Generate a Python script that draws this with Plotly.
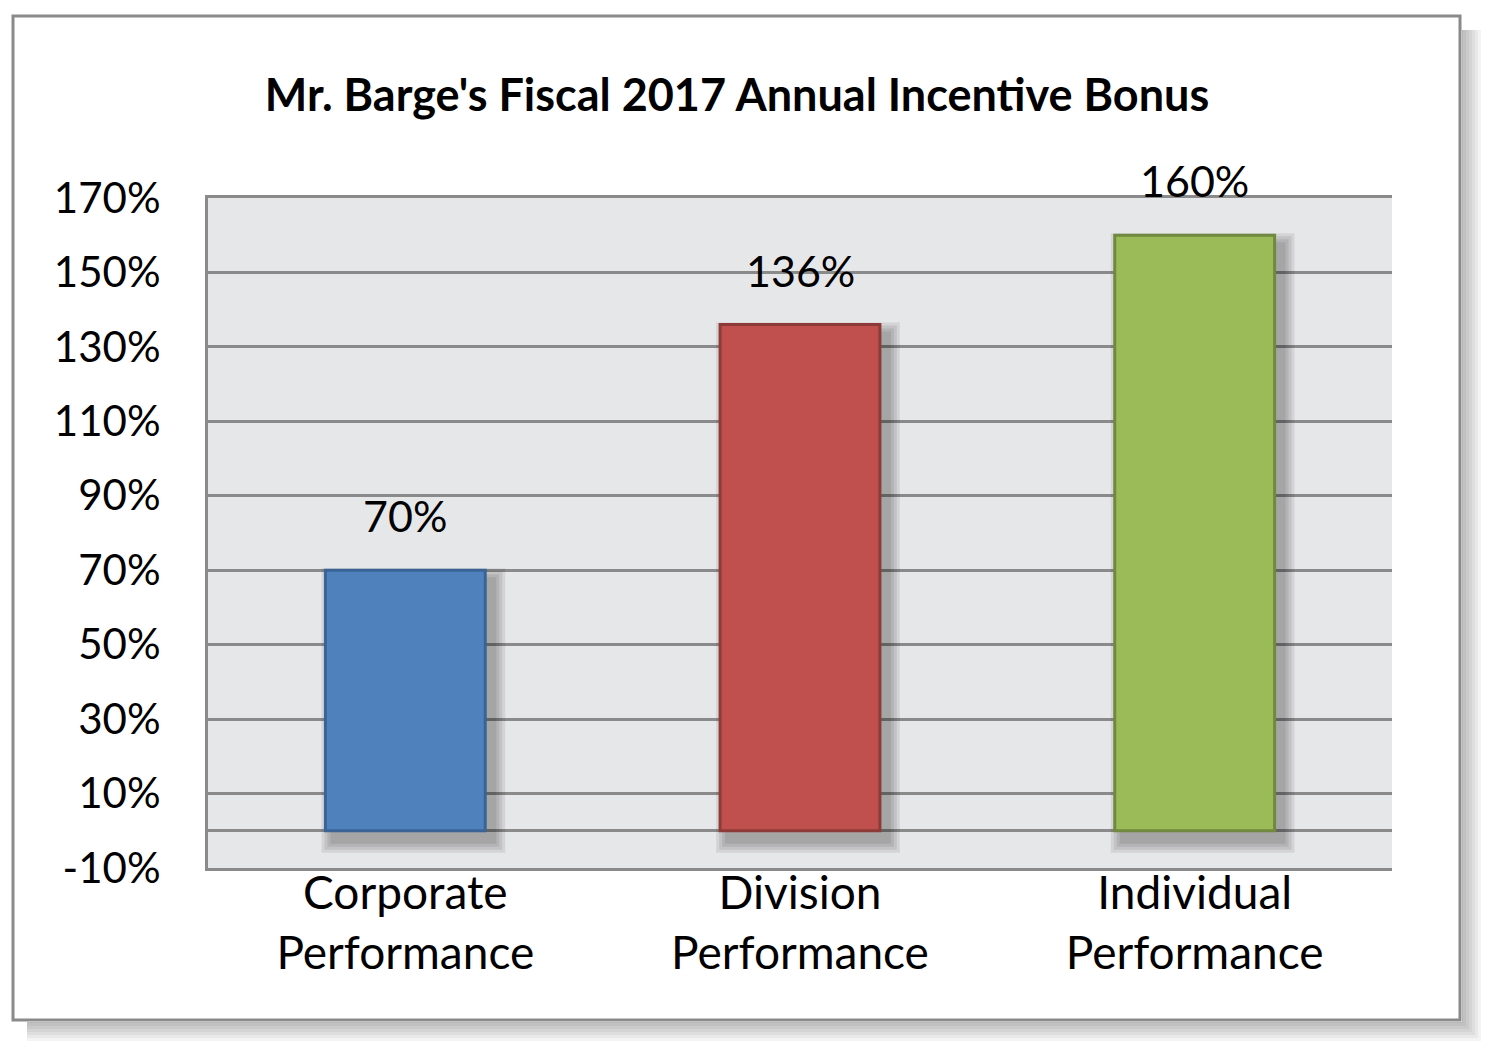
import plotly.graph_objects as go

categories = ["Corporate<br>Performance", "Division<br>Performance", "Individual<br>Performance"]
values = [70, 136, 160]
bar_colors = ["#4F81BD", "#C0504D", "#9BBB59"]
border_colors = ["#3A6496", "#8E3A38", "#71893F"]
tick_vals = [-10, 10, 30, 50, 70, 90, 110, 130, 150, 170]
tick_text = [f"{v}%" for v in tick_vals]
title_text = "Mr. Barge's Fiscal 2017 Annual Incentive Bonus"

OFF = 8  # browser body margin
W, H = 1500 - OFF, 1056 - OFF
L, R, T, B = 208 - OFF, 1392 - OFF, 198 - OFF, 868 - OFF
FONT = "Lato"
GRID = "#8A8A8A"

def px(x):
    x -= OFF
    return (x - L) / (R - L)

def py(y):
    y -= OFF
    return (B - y) / (B - T)

fig = go.Figure()

# bar shadows (soft, offset down/right)
bw = 0.405
unit_x = (R - L) / 3.0
unit_y = (B - T) / 180.0
dx, dy = 8, 10
for e in [12, 9, 6, 3]:
    w = bw + 2 * e / unit_x
    bottom = -dy / unit_y - e / unit_y
    tops = [v - dy / unit_y + e / unit_y for v in values]
    fig.add_trace(go.Bar(
        x=categories, y=[t - bottom for t in tops], base=bottom,
        width=w, offset=-w / 2 + dx / unit_x,
        marker=dict(color="rgba(0,0,0,0.08)", line=dict(width=0)),
        hoverinfo="skip", showlegend=False,
    ))

fig.add_trace(go.Bar(
    x=categories, y=values, width=bw,
    marker=dict(color=bar_colors, line=dict(color=border_colors, width=3)),
    showlegend=False, cliponaxis=False,
))

for c, v in zip(categories, values):
    fig.add_annotation(x=c, y=v, text=f"{v}%", showarrow=False,
                       yanchor="bottom", yshift=27,
                       font=dict(family=FONT, size=43, color="#000"))

shapes = []
# outer frame shadow
fl, ft, fr, fb = 13, 16, 1460, 1020
for i in range(7):
    off = 3 + i * 3
    shapes.append(dict(type="rect", xref="paper", yref="paper", layer="below",
                       x0=px(fl + 14), x1=px(fr + off), y0=py(fb + 2), y1=py(fb + off),
                       line=dict(width=0), fillcolor="rgba(0,0,0,0.045)"))
    shapes.append(dict(type="rect", xref="paper", yref="paper", layer="below",
                       x0=px(fr + 2), x1=px(fr + off), y0=py(ft + 14), y1=py(fb + 2),
                       line=dict(width=0), fillcolor="rgba(0,0,0,0.045)"))
shapes.append(dict(type="rect", xref="paper", yref="paper", layer="above",
                   x0=px(fl), x1=px(fr), y0=py(fb), y1=py(ft),
                   line=dict(color=GRID, width=3), fillcolor="rgba(0,0,0,0)"))

fig.update_layout(
    width=W, height=H,
    margin=dict(l=L, r=W - R, t=T, b=H - B),
    paper_bgcolor="white", plot_bgcolor="#E6E7E9",
    barmode="overlay",
    font=dict(family=FONT, size=40, color="#000"),
    title=dict(text=f"<b>{title_text}</b>", x=(737 - OFF) / W, xanchor="center",
               y=1 - (95 - OFF) / H, yanchor="middle", xref="container", yref="container",
               font=dict(family=FONT, size=45, color="#000")),
    shapes=shapes,
    showlegend=False,
)
fig.update_yaxes(range=[-10, 170], tickvals=tick_vals, ticktext=tick_text,
                 showgrid=True, gridcolor=GRID, gridwidth=3,
                 zeroline=True, zerolinecolor=GRID, zerolinewidth=3,
                 showline=True, linecolor=GRID, linewidth=3,
                 ticks="", ticklabelstandoff=36,
                 tickfont=dict(family=FONT, size=42, color="#000"))
fig.update_xaxes(showgrid=False, showline=True, mirror=True, linecolor=GRID, linewidth=3,
                 ticks="", ticklabelstandoff=-17,
                 tickfont=dict(family=FONT, size=46, color="#000"))

fig.write_html("out.html")
